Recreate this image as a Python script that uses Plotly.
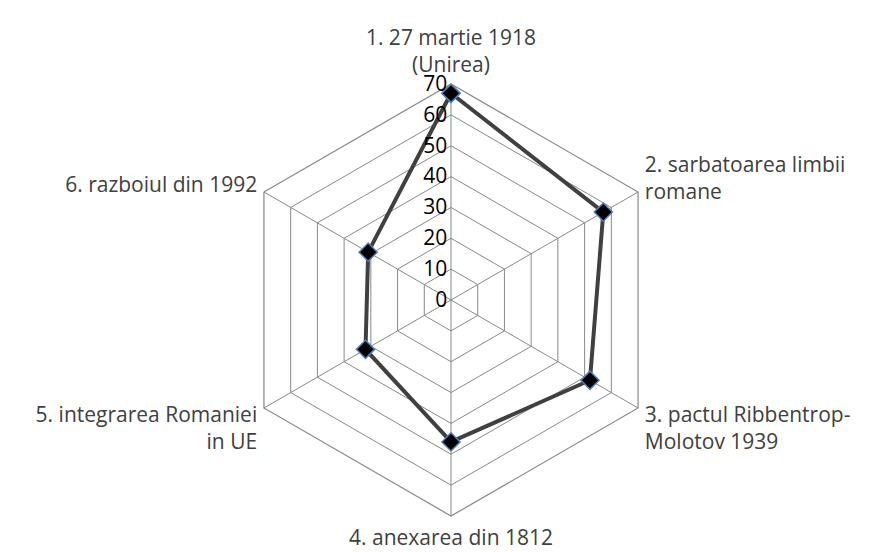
import plotly.graph_objects as go

categories = ["1. 27 martie 1918<br>(Unirea)", "2. sarbatoarea limbii<br>romane",
              "3. pactul Ribbentrop-<br>Molotov 1939", "4. anexarea din 1812",
              "5. integrarea Romaniei<br>in UE", "6. razboiul din 1992"]
values = [67, 57, 52, 46, 32, 31]
tick_vals = [0, 10, 20, 30, 40, 50, 60, 70]

r = values + values[:1]
theta = categories + categories[:1]

fig = go.Figure()
fig.add_trace(go.Scatterpolar(
    r=r, theta=theta, mode="lines+markers",
    line=dict(color="#404040", width=4),
    marker=dict(symbol="diamond", size=14, color="black",
                line=dict(color="#4f81bd", width=1.5)),
    showlegend=False,
))

font_family = "'Open Sans', sans-serif"
fig.update_layout(
    width=880, height=552,
    margin=dict(l=227, r=221, t=76, b=44),
    paper_bgcolor="white", plot_bgcolor="white",
    font=dict(family=font_family, size=21, color="#404040"),
    polar=dict(
        gridshape="linear",
        bgcolor="white",
        radialaxis=dict(range=[0, 70], tickvals=tick_vals, angle=90,
                        tickangle=90, showline=False, ticks="",
                        gridcolor="#888888", gridwidth=1.2,
                        tickfont=dict(size=21, color="black"), side="counterclockwise"),
        angularaxis=dict(direction="clockwise", rotation=90,
                         categoryorder="array", categoryarray=categories,
                         gridcolor="#888888", gridwidth=1.2,
                         linecolor="#888888", linewidth=1.2,
                         ticks="outside", ticklen=3, tickcolor="rgba(0,0,0,0)",
                         tickfont=dict(size=21, color="#404040")),
    ),
)

fig.write_html("out.html")
